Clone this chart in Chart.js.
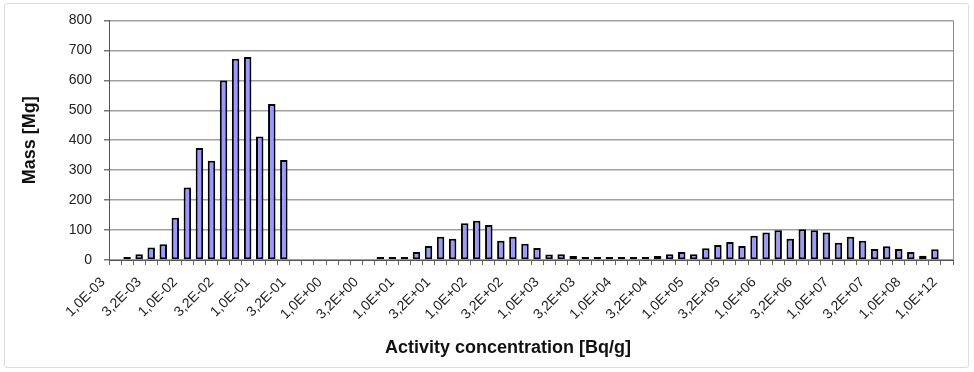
<!DOCTYPE html>
<html>
<head>
<meta charset="utf-8">
<script src="https://cdn.jsdelivr.net/npm/chart.js@4/dist/chart.umd.min.js"></script>
<style>
  body { margin: 0; background: #fff; }
  #wrap { position: relative; width: 974px; height: 372px; }
  #frame { position: absolute; left: 4px; top: 3px; right: 5px; bottom: 4px; border: 1px solid #dcdcdc; border-radius: 3px; pointer-events: none; }
</style>
</head>
<body>
<div id="wrap">
  <canvas id="grafico" width="974" height="372"></canvas>
  <div id="frame"></div>
</div>
<script>
// etiquetas de categoria (6 por decada)
const mantisas = ['1,0', '1,5', '2,2', '3,2', '4,6', '6,8'];
const exponentes = ['-03', '-02', '-01', '+00', '+01', '+02', '+03', '+04', '+05', '+06', '+07'];
const ultimas = ['1,0E+08', '1,5E+08', '2,2E+08', '1,0E+12'];

const categorias = [];
exponentes.forEach(e => mantisas.forEach(m => categorias.push(m + 'E' + e)));
ultimas.forEach(c => categorias.push(c));

// masa [Mg] por categoria (null = sin barra)
const masa = [
    null, 5, 19, 42, 53, 141, 242, 374, 331, 599, 672, 678, 412, 521, 334,
    null, null, null, null, null, null, null,
    4, 4, 8, 27, 47, 78, 71, 123, 131, 117, 64, 78, 54, 40,
    18, 19, 13, 9, 4, 4, 4, 4, 4, 13, 19, 27, 19, 39, 50, 60, 47,
    81, 92, 99, 71, 103, 99, 92, 58, 78, 64, 37, 46, 37, 27, 14, 36, null
];

const ticksY = [0, 100, 200, 300, 400, 500, 600, 700, 800];
const tituloX = 'Activity concentration [Bq/g]';

const extras = {
    id: 'extras',
    afterDraw(chart) {
        const a = chart.chartArea;
        const c = chart.ctx;
        c.save();
        // borde derecho del area
        c.strokeStyle = '#8c8c8c';
        c.lineWidth = 1;
        c.beginPath();
        c.moveTo(Math.round(a.right) + 0.5, a.top);
        c.lineTo(Math.round(a.right) + 0.5, a.bottom);
        c.stroke();
        // titulo eje x (un poco a la izquierda del centro, como el original)
        c.fillStyle = '#111';
        c.font = 'bold 18px "Liberation Sans"';
        c.textAlign = 'center';
        c.textBaseline = 'middle';
        c.fillText(tituloX, (a.left + a.right) / 2 - 23, a.bottom + 88);
        c.restore();
    }
};

const ctx = document.getElementById('grafico').getContext('2d');

const chart = new Chart(ctx, {
    type: 'bar',
    data: {
        labels: categorias,
        datasets: [{
            label: 'Mass',
            data: masa,
            backgroundColor: '#9999ff',
            borderColor: '#000000',
            borderWidth: 2,
            borderSkipped: false,
            minBarLength: 3,
            barPercentage: 0.62,
            categoryPercentage: 1.0
        }]
    },
    options: {
        responsive: false,
        animation: false,
        layout: { padding: { left: 15, right: 21, top: 20, bottom: 9 } },
        plugins: {
            legend: { display: false },
            tooltip: { enabled: false }
        },
        scales: {
            x: {
                afterFit(s) { s.height = 103; },
                grid: { drawOnChartArea: false, drawTicks: true, tickLength: 5, color: '#666', tickColor: '#666' },
                border: { color: '#555', width: 1 },
                ticks: {
                    autoSkip: false,
                    maxRotation: 45,
                    minRotation: 45,
                    labelOffset: -12,
                    padding: 9,
                    color: '#222',
                    font: { family: 'Liberation Sans', size: 14 },
                    callback: (v, i) => (i % 3 === 0 ? categorias[i] : '')
                }
            },
            y: {
                min: 0,
                max: 800,
                afterFit(s) { s.width = 94; },
                afterBuildTicks(s) { s.ticks = ticksY.map(v => ({ value: v })); },
                grid: { color: '#a0a0a0', lineWidth: 1.5, tickLength: 5, tickColor: '#777' },
                border: { color: '#555', width: 1 },
                ticks: {
                    padding: 12,
                    color: '#222',
                    font: { family: 'Liberation Sans', size: 14 }
                },
                title: {
                    display: true,
                    text: 'Mass [Mg]',
                    color: '#111',
                    font: { family: 'Liberation Sans', size: 18, weight: 'bold' }
                }
            }
        }
    },
    plugins: [extras]
});
</script>
</body>
</html>
